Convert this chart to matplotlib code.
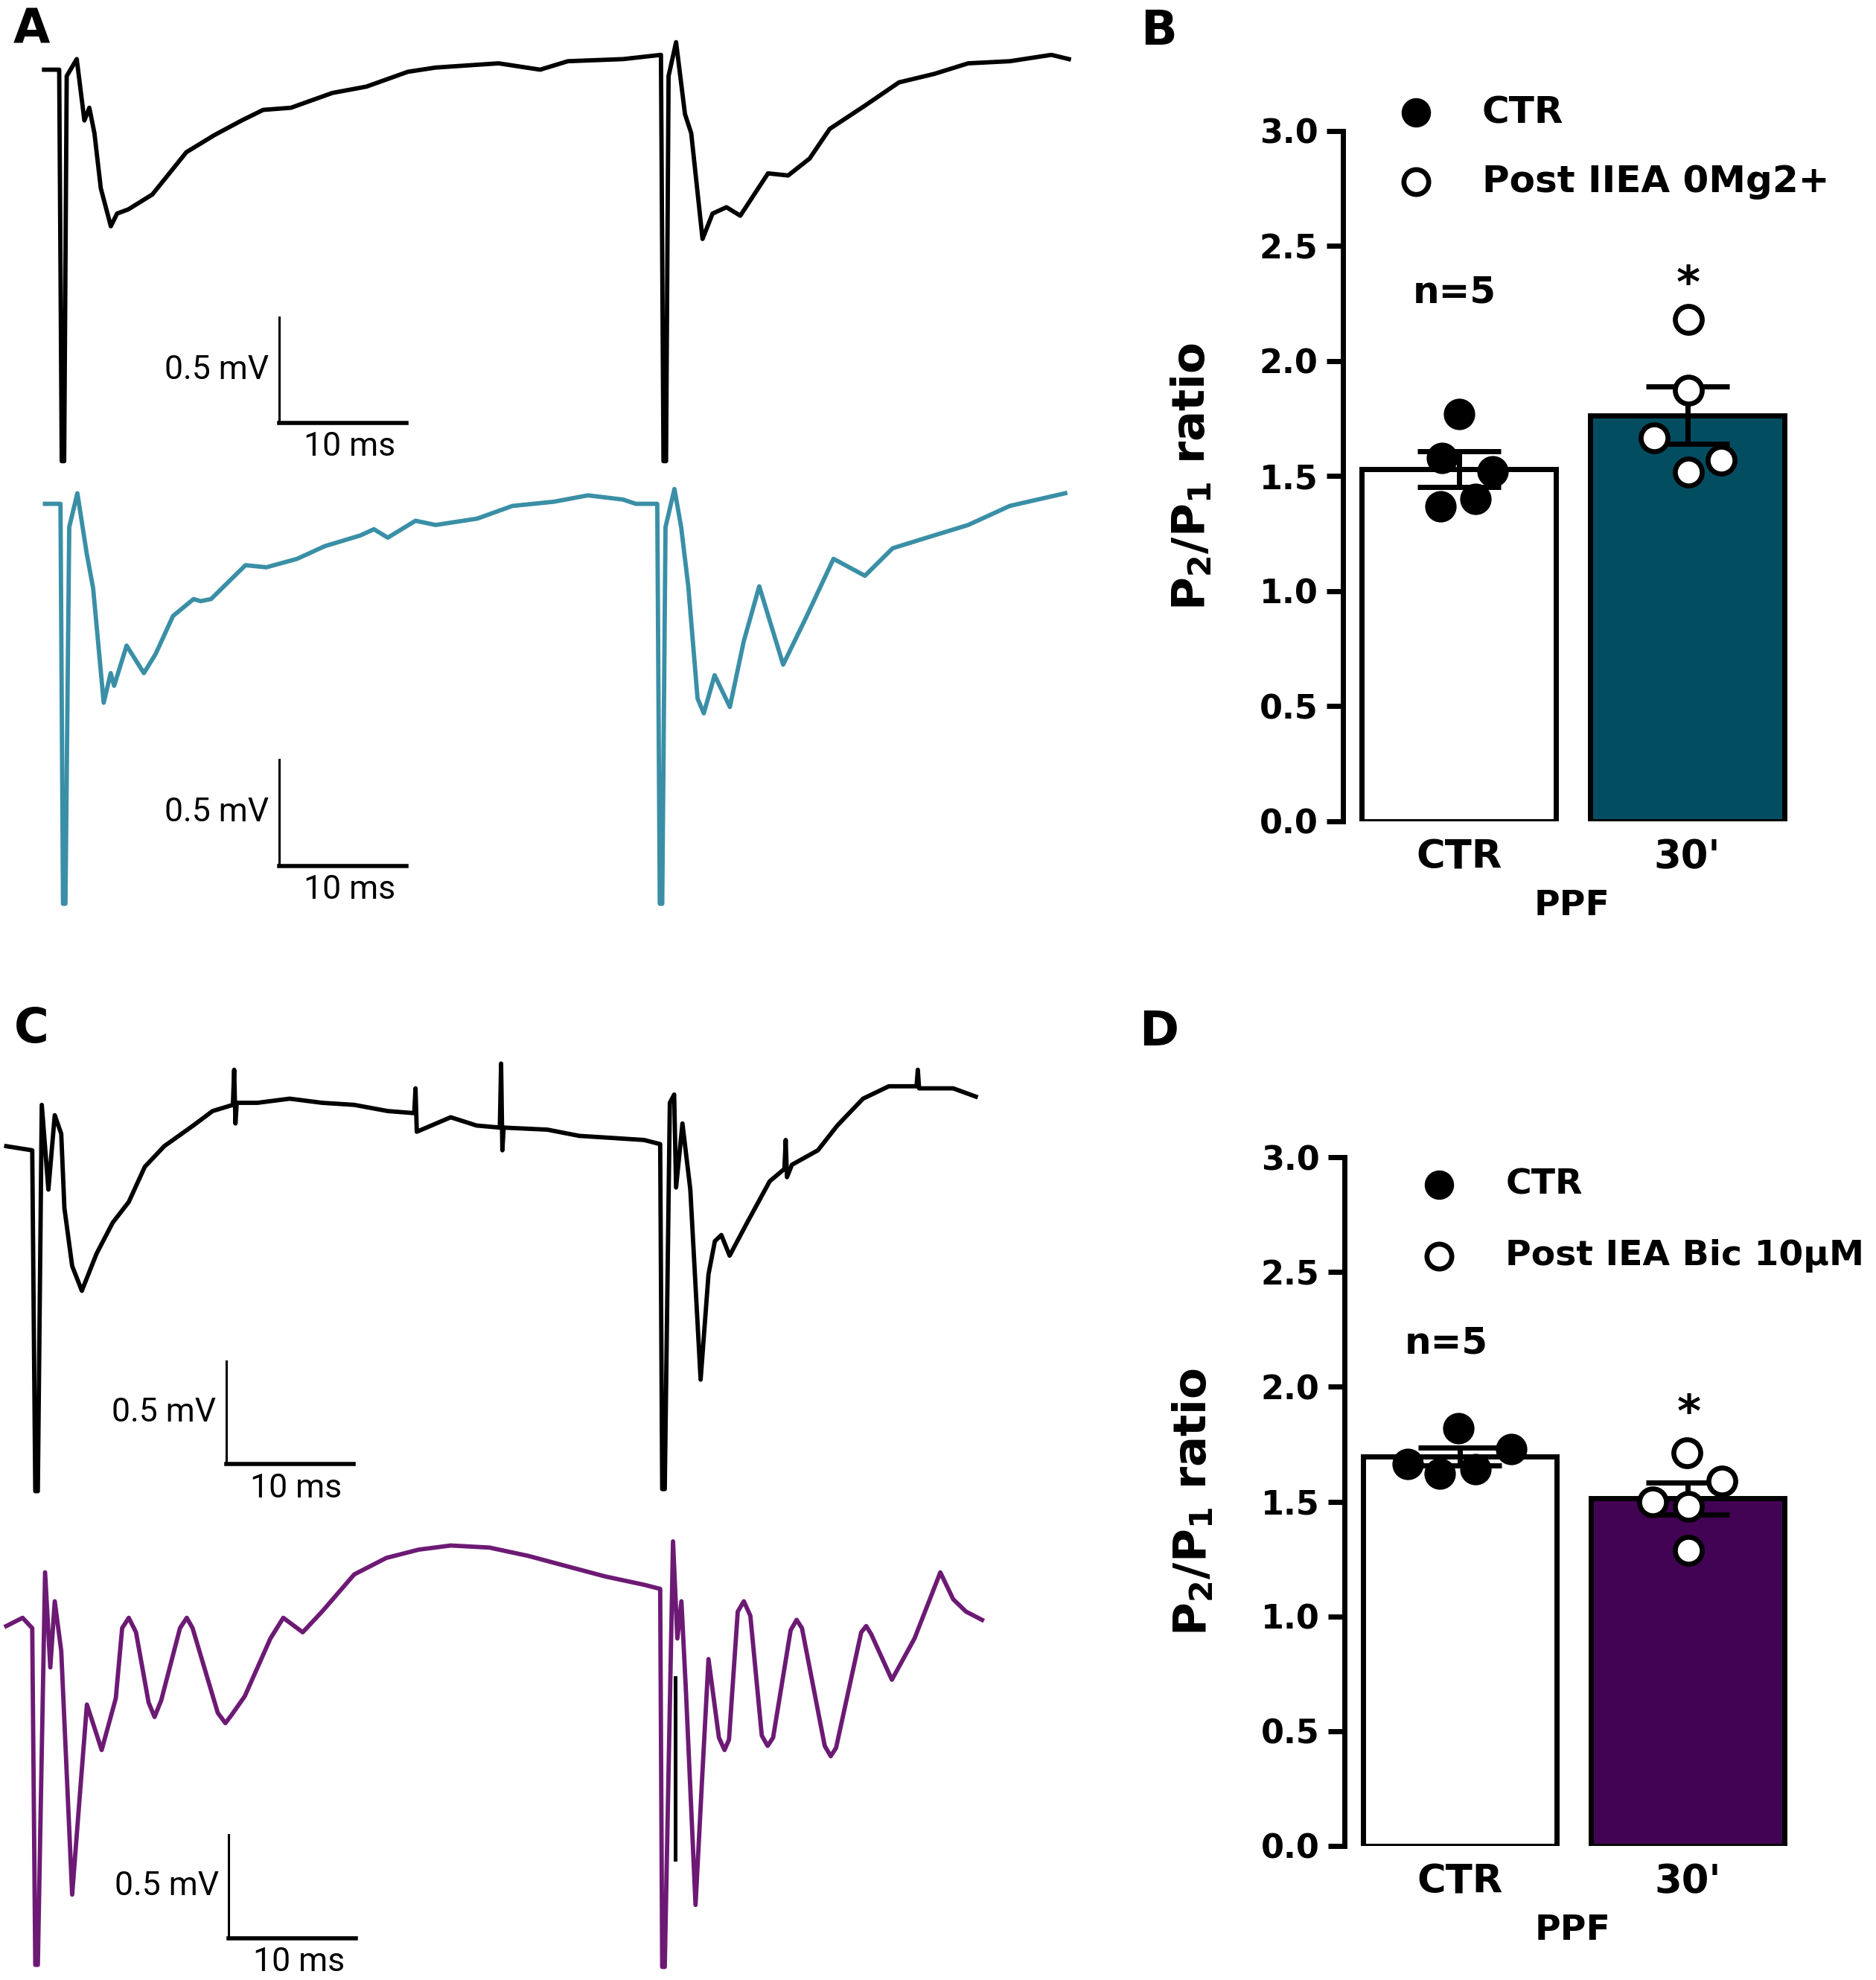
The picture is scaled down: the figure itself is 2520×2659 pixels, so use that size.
import matplotlib
matplotlib.use("Agg")
import matplotlib.pyplot as plt
import numpy as np

plt.rcParams['font.family'] = ['DejaVu Sans']
plt.rcParams['mathtext.fontset'] = 'dejavusans'

# ---------------- trace data (time in ms, voltage in mV) ----------------
a_ctr_t = [0.0, 1.19, 1.39, 1.58, 1.78, 2.57, 3.17, 3.56, 3.96, 4.46, 5.25, 5.74, 6.63, 8.51, 11.19,
           13.37, 15.54, 17.23, 19.41, 22.67, 25.35, 28.61, 30.79, 35.74, 39.01, 41.19, 45.54, 48.51,
           48.71, 48.91, 49.11, 49.70, 50.40, 50.89, 51.78, 52.57, 53.66, 54.75, 56.93, 58.51, 60.20,
           61.78, 64.55, 67.23, 70.00, 72.67, 75.94, 79.21, 80.59]
a_ctr_v = [0.01, 0.01, -1.84, -1.84, -0.02, 0.06, -0.23, -0.17, -0.29, -0.55, -0.73, -0.67, -0.65, -0.58,
           -0.38, -0.30, -0.23, -0.18, -0.17, -0.10, -0.07, 0.00, 0.02, 0.04, 0.01, 0.05, 0.06, 0.08,
           -1.84, -1.84, -0.02, 0.14, -0.20, -0.29, -0.79, -0.67, -0.64, -0.68, -0.48, -0.49, -0.41,
           -0.27, -0.16, -0.05, -0.01, 0.04, 0.05, 0.08, 0.06]

a_mg_t = [0.07, 1.29, 1.49, 1.68, 1.98, 2.62, 3.34, 3.86, 4.69, 5.24, 5.51, 6.49, 7.85, 8.77, 10.14,
          11.76, 12.31, 13.13, 15.84, 17.48, 19.90, 22.08, 24.85, 25.94, 27.03, 29.21, 30.79, 34.06,
          36.83, 40.10, 42.77, 45.54, 46.53, 48.22, 48.42, 48.61, 48.87, 49.57, 50.10, 50.66, 51.39,
          51.88, 52.73, 53.93, 55.02, 56.24, 58.12, 59.90, 62.08, 64.55, 66.73, 69.41, 72.67, 75.94, 80.30]
a_mg_v = [0.0, 0.0, -1.89, -1.89, -0.11, 0.05, -0.23, -0.40, -0.94, -0.80, -0.86, -0.67, -0.80, -0.71,
          -0.53, -0.45, -0.46, -0.45, -0.29, -0.30, -0.26, -0.20, -0.15, -0.12, -0.16, -0.08, -0.10,
          -0.07, -0.01, 0.01, 0.04, 0.02, 0.0, 0.0, -1.89, -1.89, -0.11, 0.07, -0.11, -0.39, -0.92,
          -0.99, -0.81, -0.96, -0.65, -0.39, -0.76, -0.54, -0.26, -0.34, -0.21, -0.16, -0.10, -0.01, 0.05]

c_ctr_t = [0.0, 2.04, 2.28, 2.48, 2.79, 3.31, 3.81, 4.32, 4.57, 5.18, 5.94, 7.10, 8.37, 9.63, 10.89,
           12.42, 14.70, 16.22, 17.82, 17.92, 18.02, 18.12, 19.76, 22.28, 24.83, 27.36, 30.00, 32.08,
           32.18, 32.28, 34.95, 36.98, 38.81, 38.91, 39.01, 39.11, 42.55, 45.05, 47.62, 50.15, 51.42,
           51.58, 51.78, 52.18, 52.52, 52.67, 53.17, 53.79, 54.60, 55.22, 55.72, 56.23, 56.88, 58.26,
           60.03, 61.19, 61.29, 61.39, 61.78, 63.82, 65.35, 67.37, 69.40, 71.58, 71.68, 71.78, 74.46, 76.24]
c_ctr_v = [0.0, -0.02, -1.67, -1.67, 0.20, -0.21, 0.15, 0.06, -0.30, -0.58, -0.70, -0.52, -0.37, -0.27,
           -0.10, 0.0, 0.10, 0.17, 0.20, 0.37, 0.11, 0.21, 0.21, 0.23, 0.21, 0.20, 0.17, 0.16, 0.28,
           0.07, 0.14, 0.10, 0.09, 0.40, -0.02, 0.09, 0.08, 0.05, 0.04, 0.03, 0.01, -1.66, -1.66, 0.21,
           0.25, -0.20, 0.11, -0.21, -1.13, -0.62, -0.46, -0.43, -0.53, -0.37, -0.17, -0.11, 0.03,
           -0.15, -0.09, -0.02, 0.10, 0.23, 0.29, 0.29, 0.37, 0.28, 0.28, 0.24]

c_bic_t = [0.0, 1.28, 2.04, 2.28, 2.48, 3.05, 3.46, 3.81, 4.32, 5.18, 5.68, 6.34, 7.50, 8.61, 9.11,
           9.63, 10.20, 11.19, 11.66, 12.18, 13.66, 14.19, 14.65, 16.63, 17.23, 17.72, 18.75, 20.77,
           21.78, 23.31, 24.83, 27.36, 29.89, 32.43, 34.95, 37.99, 41.03, 44.06, 47.11, 50.15, 51.42,
           51.58, 51.78, 52.43, 52.77, 53.09, 53.45, 54.20, 54.70, 55.22, 56.04, 56.48, 56.83, 57.52,
           58.00, 58.51, 59.41, 59.87, 60.30, 61.68, 62.15, 62.57, 64.36, 64.83, 65.25, 67.23, 67.62,
           68.02, 69.64, 71.42, 73.45, 74.46, 75.47, 76.73]
c_bic_v = [0.0, 0.04, -0.01, -1.64, -1.64, 0.26, -0.20, 0.12, -0.12, -1.30, -0.90, -0.38, -0.60, -0.35,
           -0.01, 0.04, -0.03, -0.37, -0.44, -0.36, -0.01, 0.04, -0.01, -0.42, -0.47, -0.43, -0.34,
           -0.06, 0.04, -0.03, 0.07, 0.25, 0.33, 0.37, 0.39, 0.38, 0.34, 0.29, 0.24, 0.20, 0.18,
           -1.65, -1.65, 0.41, -0.06, 0.12, -0.32, -1.35, -0.76, -0.16, -0.54, -0.60, -0.55, 0.07,
           0.12, 0.05, -0.53, -0.58, -0.54, -0.02, 0.03, -0.01, -0.58, -0.63, -0.59, -0.03, 0.0,
           -0.04, -0.26, -0.06, 0.26, 0.13, 0.07, 0.03]
c_bic_black_t = [52.6, 52.6]
c_bic_black_v = [-0.25, -1.13]

scale_ms = 10
scale_mv = 0.5

# ---------------- bar data ----------------
groups = ['CTR', "30'"]
b_means = [1.53, 1.765]
b_sems = [0.077, 0.125]
b_ctr_pts = [1.77, 1.58, 1.52, 1.37, 1.40]
b_post_pts = [2.18, 1.875, 1.666, 1.57, 1.517]
b_ctr_jit = [0.0, -0.075, 0.148, -0.081, 0.071]
b_post_jit = [0.005, 0.005, -0.147, 0.149, 0.005]

d_means = [1.697, 1.513]
d_sems = [0.039, 0.069]
d_ctr_pts = [1.82, 1.664, 1.623, 1.642, 1.73]
d_post_pts = [1.711, 1.588, 1.50, 1.478, 1.286]
d_ctr_jit = [-0.007, -0.231, -0.088, 0.066, 0.223]
d_post_jit = [-0.003, 0.151, -0.155, 0.003, 0.003]

yticks = [0.0, 0.5, 1.0, 1.5, 2.0, 2.5, 3.0]

# ---------------- figure ----------------
W, H = 2520, 2659
fig = plt.figure(figsize=(W / 200, H / 200), dpi=200)

DW, DH = 1490.0, 1572.0  # reference display coordinates used for layout


def trace_axes(box, t0_px, base_px, ppms, ppmv):
    x0, y0, x1, y1 = box
    ax = fig.add_axes([x0 / DW, 1 - y1 / DH, (x1 - x0) / DW, (y1 - y0) / DH])
    ax.set_xlim((x0 - t0_px) / ppms, (x1 - t0_px) / ppms)
    ax.set_ylim((base_px - y1) / ppmv, (base_px - y0) / ppmv)
    ax.axis('off')
    return ax


narrow = ['Liberation Sans Narrow', 'DejaVu Sans Condensed', 'Roboto', 'DejaVu Sans']


def scale_bar(ax, t, v):
    ax.plot([t, t], [v, v + scale_mv], color='black', lw=1.1, clip_on=False)
    ax.plot([t, t + scale_ms], [v, v], color='black', lw=2.0, clip_on=False)
    ax.text(t - 0.8, v + scale_mv * 0.5, '0.5 mV', ha='right', va='center',
            fontsize=16, family=narrow)
    ax.text(t + scale_ms * 0.55, v - 0.04, '10 ms', ha='center', va='top',
            fontsize=16, family=narrow)


LW = 2.1
axA1 = trace_axes((0, 20, 870, 380), 35, 57, 10.1, 168)
axA1.plot(a_ctr_t, a_ctr_v, color='black', lw=LW, clip_on=False)
scale_bar(axA1, 18.5, -1.66)

axA2 = trace_axes((0, 375, 870, 725), 35, 400, 10.1, 168)
axA2.plot(a_mg_t, a_mg_v, color='#3a8fa6', lw=LW, clip_on=False)
scale_bar(axA2, 18.5, -1.71)

axC1 = trace_axes((0, 830, 800, 1195), 5, 910, 10.1, 164)
axC1.plot(c_ctr_t, c_ctr_v, color='black', lw=LW, clip_on=False)
scale_bar(axC1, 17.3, -1.54)

axC2 = trace_axes((0, 1200, 800, 1572), 5, 1291, 10.1, 164)
axC2.plot(c_bic_t, c_bic_v, color='#6c1a74', lw=LW, clip_on=False)
axC2.plot(c_bic_black_t, c_bic_black_v, color='black', lw=1.8, clip_on=False, zorder=5)
scale_bar(axC2, 17.5, -1.51)


def bar_panel(rect, means, sems, ctr_pts, ctr_jit, post_pts, post_jit, color,
              leg2, leg_size, leg_pos, n_pos, star_pos):
    ax = fig.add_axes(rect)
    x = np.arange(len(groups))
    ax.bar(x, means, width=0.85, color=['white', color], edgecolor='black',
           linewidth=2.5, zorder=1)
    ax.errorbar(x, means, yerr=sems, fmt='none', ecolor='black', elinewidth=2.5,
                capsize=20, capthick=2.5, zorder=2)
    ax.plot(x[0] + np.array(ctr_jit), ctr_pts, 'o', ms=13, mfc='black', mec='black',
            mew=2.2, zorder=3, clip_on=False)
    ax.plot(x[1] + np.array(post_jit), post_pts, 'o', ms=13, mfc='white', mec='black',
            mew=2.4, zorder=3, clip_on=False)
    ax.set_xlim(-0.508, 1.5)
    ax.set_ylim(0, 3.0)
    ax.set_yticks(yticks)
    ax.set_yticklabels([f'{v:.1f}' for v in yticks], fontsize=16, fontweight='bold')
    ax.set_xticks(x)
    ax.set_xticklabels(groups, fontsize=19, fontweight='bold')
    ax.tick_params(axis='x', length=0, pad=8)
    ax.tick_params(axis='y', length=8, width=2.5, pad=4)
    for s in ['top', 'right', 'bottom']:
        ax.spines[s].set_visible(False)
    ax.spines['left'].set_linewidth(2.5)
    ax.set_xlabel('PPF', fontsize=17, fontweight='bold', labelpad=6)
    ax.set_ylabel(r'$\mathbf{P_2/P_1}$ ratio', fontsize=22, fontweight='bold', labelpad=22)
    # legend
    lx, ly1, ly2, tx = leg_pos
    ax.plot([lx], [ly1], 'o', ms=12, mfc='black', mec='black', mew=2.2, clip_on=False)
    ax.plot([lx], [ly2], 'o', ms=12, mfc='white', mec='black', mew=2.4, clip_on=False)
    ax.text(tx, ly1, 'CTR', fontsize=leg_size, fontweight='bold', va='center', ha='left')
    ax.text(tx, ly2, leg2, fontsize=leg_size, fontweight='bold', va='center', ha='left')
    ax.text(n_pos[0], n_pos[1], 'n=5', fontsize=18, fontweight='bold', ha='center', va='center')
    ax.text(star_pos[0], star_pos[1], '*', fontsize=22, fontweight='bold', ha='center', va='center')
    return ax


axB = bar_panel([1804 / W, 1 - 1103 / H, (2420 - 1804) / W, (1103 - 176) / H],
                b_means, b_sems, b_ctr_pts, b_ctr_jit, b_post_pts, b_post_jit, '#034d61',
                'Post IIEA 0Mg2+', 18, (-0.19, 3.08, 2.78, 0.10), (-0.02, 2.30), (1.005, 2.33))
axD = bar_panel([1806 / W, 1 - 2479 / H, (2420 - 1806) / W, (2479 - 1554) / H],
                d_means, d_sems, d_ctr_pts, d_ctr_jit, d_post_pts, d_post_jit, '#420354',
                'Post IEA Bic 10μM', 17, (-0.094, 2.88, 2.57, 0.20), (-0.06, 2.19), (1.005, 1.88))

# panel letters
for lab, (px, py) in {'A': (42, 40), 'B': (1557, 42), 'C': (42, 1382), 'D': (1557, 1386)}.items():
    fig.text(px / W, 1 - py / H, lab, fontsize=23, fontweight='bold', ha='center', va='center')

fig.savefig('out.png', dpi=200, facecolor='white')
